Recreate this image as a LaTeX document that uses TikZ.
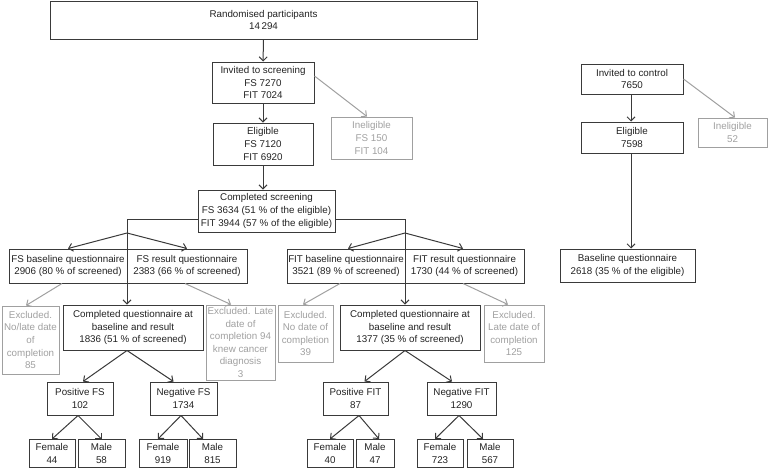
\documentclass[tikz,border=0pt]{standalone}
\usepackage{fontspec}
\setmainfont{Liberation Sans}
\usetikzlibrary{arrows.meta}
\definecolor{ink}{HTML}{222222}
\definecolor{edge}{HTML}{3A3A3A}
\definecolor{pale}{HTML}{A0A0A0}
\tikzset{
  box/.style={draw=edge, line width=1pt, text=ink, align=center, inner sep=0pt,
    font=\fontsize{9.8}{12.6}\selectfont},
  gbox/.style={box, draw=pale, text=pale},
  arr/.style={draw=edge, line width=1pt, -{Straight Barb[length=4pt,width=8pt]}},
  garr/.style={arr, draw=pale},
  ln/.style={draw=edge, line width=1pt}
}
\begin{document}
\begin{tikzpicture}[x=1pt,y=-1pt]
\useasboundingbox (0,0) rectangle (768,472);
% top
\node[box, minimum width=427, minimum height=38] (rand) at (263.5,20) {Randomised participants\\14\,294};
\node[box, minimum width=102, minimum height=41] (invs) at (263,82.5) {Invited to screening\\FS 7270\\FIT 7024};
\node[gbox, minimum width=81, minimum height=42] (inel1) at (371.5,138) {Ineligible\\FS 150\\FIT 104};
\node[box, minimum width=100, minimum height=42] (elig) at (263,144) {Eligible\\FS 7120\\FIT 6920};
\node[box, minimum width=137, minimum height=42] (comps) at (266.5,211) {Completed screening\\FS 3634 (51 \% of the eligible)\\FIT 3944 (57 \% of the eligible)};
% questionnaires
\node[box, minimum width=118, minimum height=34] (fsb) at (68,266) {FS baseline questionnaire\\2906 (80 \% of screened)};
\node[box, minimum width=120, minimum height=34] (fsr) at (187,266) {FS result questionnaire\\2383 (66 \% of screened)};
\node[box, minimum width=118, minimum height=34] (fitb) at (346,266) {FIT baseline questionnaire\\3521 (89 \% of screened)};
\node[box, minimum width=119, minimum height=34] (fitr) at (464.5,266) {FIT result questionnaire\\1730 (44 \% of screened)};
% excluded and completed
\node[gbox, minimum width=57, minimum height=68] (exc1) at (30.5,340) {Excluded.\\No/late date\\of\\completion\\85};
\node[box, minimum width=140, minimum height=45] (cqfs) at (133,327.5) {Completed questionnaire at\\baseline and result\\1836 (51 \% of screened)};
\node[gbox, minimum width=69, minimum height=75] (exc2) at (240.5,342.5) {Excluded. Late\\date of\\completion 94\\knew cancer\\diagnosis\\3};
\node[gbox, minimum width=55, minimum height=57] (exc3) at (305.5,333.5) {Excluded.\\No date of\\completion\\39};
\node[box, minimum width=140, minimum height=45] (cqfit) at (410,327.5) {Completed questionnaire at\\baseline and result\\1377 (35 \% of screened)};
\node[gbox, minimum width=60, minimum height=57] (exc4) at (514,333.5) {Excluded.\\Late date of\\completion\\125};
% results
\node[box, minimum width=66, minimum height=33] (posfs) at (80,398.5) {Positive FS\\102};
\node[box, minimum width=67, minimum height=33] (negfs) at (183.5,398.5) {Negative FS\\1734};
\node[box, minimum width=65, minimum height=33] (posfit) at (355.5,398.5) {Positive FIT\\87};
\node[box, minimum width=69, minimum height=33] (negfit) at (461.5,398.5) {Negative FIT\\1290};
% sex
\node[box, minimum width=46, minimum height=28] (f44) at (52,453.5) {Female\\44};
\node[box, minimum width=47, minimum height=28] (m58) at (101.5,453.5) {Male\\58};
\node[box, minimum width=48, minimum height=28] (f919) at (163,453.5) {Female\\919};
\node[box, minimum width=47, minimum height=28] (m815) at (212.5,453.5) {Male\\815};
\node[box, minimum width=46, minimum height=28] (f40) at (330,453.5) {Female\\40};
\node[box, minimum width=38, minimum height=28] (m47) at (375,453.5) {Male\\47};
\node[box, minimum width=46, minimum height=28] (f723) at (440,453.5) {Female\\723};
\node[box, minimum width=46, minimum height=28] (m567) at (490,453.5) {Male\\567};
% control
\node[box, minimum width=102, minimum height=30] (invc) at (632,79) {Invited to control\\7650};
\node[box, minimum width=102, minimum height=31] (eligc) at (632,137.5) {Eligible\\7598};
\node[gbox, minimum width=69, minimum height=29] (inelc) at (732.5,132.5) {Ineligible\\52};
\node[box, minimum width=135, minimum height=33] (basec) at (627.5,265.5) {Baseline questionnaire\\2618 (35 \% of the eligible)};
% junctions
\coordinate (jl) at (127,233);
\coordinate (jr) at (405,233);
% connectors
\draw[arr] (rand) -- (invs);
\draw[arr] (invs) -- (elig);
\draw[arr] (elig.south -| comps.north) ++(-3.5,0) coordinate (es) -- (es |- comps.north);
\draw[garr] ([yshift=6.5pt]invs.east) -- ([xshift=-4.5pt]inel1.north);
\draw[ln] ([yshift=-8pt]comps.west) -| (jl);
\draw[ln] ([yshift=-8pt]comps.east) -| (jr);
\draw[arr] (jl) -- (fsb.north);
\draw[arr] (jl) -- (fsr.north);
\draw[arr] (jl) -- (cqfs.north -| jl);
\draw[arr] (jr) -- ([xshift=2pt]fitb.north);
\draw[arr] (jr) -- ([xshift=-1.5pt]fitr.north);
\draw[arr] (jr) -- (cqfit.north -| jr);
\draw[garr] ([xshift=-6pt]fsb.south) -- ([xshift=-4.5pt]exc1.north);
\draw[garr] ([xshift=-2pt]fsr.south) -- ([xshift=-9.5pt]exc2.north);
\draw[garr] ([xshift=-6pt]fitb.south) -- ([xshift=-2.5pt]exc3.north);
\draw[garr] ([xshift=-1.5pt]fitr.south) -- ([xshift=-6pt]exc4.north);
\draw[arr] (cqfs.south -| jl) -- ([xshift=3pt]posfs.north);
\draw[arr] (cqfs.south -| jl) -- ([xshift=-10pt]negfs.north);
\draw[arr] (cqfit.south -| jr) -- ([xshift=9pt]posfit.north);
\draw[arr] (cqfit.south -| jr) -- ([xshift=-9.5pt]negfit.north);
\draw[arr] ([xshift=-2pt]posfs.south) -- (f44.north);
\draw[arr] ([xshift=-2pt]posfs.south) -- (m58.north);
\draw[arr] ([xshift=-2.5pt]negfs.south) -- ([xshift=-5pt]f919.north);
\draw[arr] ([xshift=-2.5pt]negfs.south) -- ([xshift=-9.5pt]m815.north);
\draw[arr] ([xshift=3.5pt]posfit.south) -- (f40.north);
\draw[arr] ([xshift=3.5pt]posfit.south) -- ([xshift=4pt]m47.north);
\draw[arr] ([xshift=-2.5pt]negfit.south) -- ([xshift=-5pt]f723.north);
\draw[arr] ([xshift=-2.5pt]negfit.south) -- ([xshift=-7pt]m567.north);
\draw[arr] ([xshift=-1pt]invc.south) -- ([xshift=-1pt]eligc.south |- eligc.north);
\draw[arr] ([xshift=-1pt]eligc.south) -- ([xshift=-1pt]eligc.south |- basec.north);
\draw[garr] (invc.east) -- ([xshift=2.5pt]inelc.north);
\end{tikzpicture}
\end{document}
